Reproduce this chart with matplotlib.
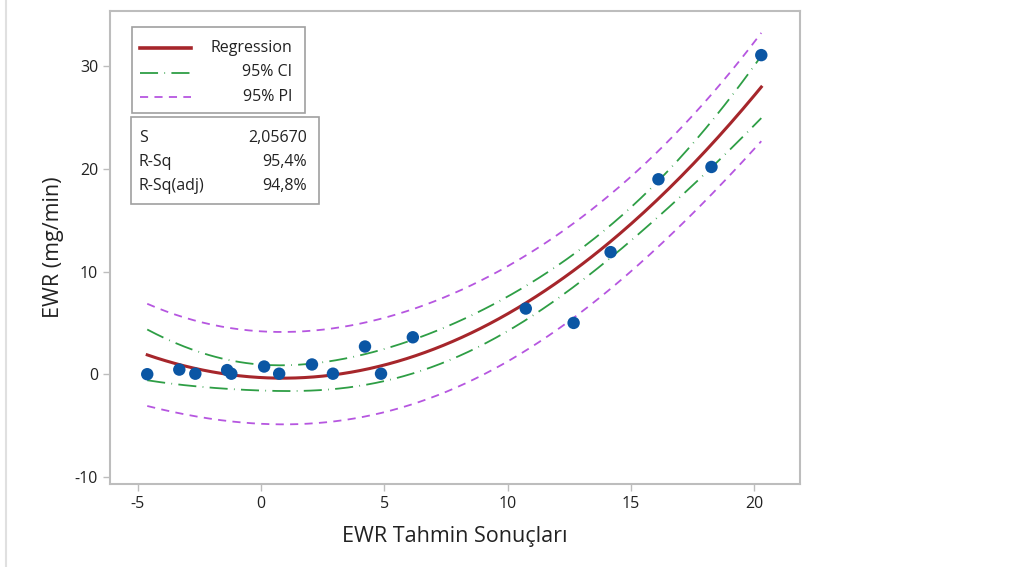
import numpy as np
import matplotlib
matplotlib.use("Agg")
import matplotlib.pyplot as plt
from matplotlib.lines import Line2D

plt.rcParams["font.family"] = ["Open Sans", "DejaVu Sans"]
plt.rcParams["axes.unicode_minus"] = False

x_pred = [-4.62, -3.32, -2.67, -1.38, -1.21, 0.12, 0.73, 2.06, 2.91, 4.21,
          4.86, 6.15, 10.73, 12.67, 14.17, 16.11, 18.26, 20.28]
y_ewr = [0.0, 0.45, 0.05, 0.4, 0.05, 0.75, 0.05, 0.95, 0.05, 2.7,
         0.05, 3.6, 6.4, 5.0, 11.9, 19.0, 20.2, 31.1]
legend_labels = ["Regression", "95% CI", "95% PI"]
stats_names = ["S", "R-Sq", "R-Sq(adj)"]
stats_values = ["2,05670", "95,4%", "94,8%"]
t_crit = 2.131  # t(0.975, df=15)

# quadratic fit + confidence / prediction bands
x = np.array(x_pred)
y = np.array(y_ewr)
coef = np.polyfit(x, y, 2)
X = np.vander(x, 3)
resid = y - X @ coef
s = np.sqrt(resid @ resid / (len(x) - 3))
xtx_inv = np.linalg.inv(X.T @ X)

xg = np.linspace(x.min(), x.max(), 200)
Xg = np.vander(xg, 3)
fit = Xg @ coef
lev = np.einsum("ij,jk,ik->i", Xg, xtx_inv, Xg)
ci = t_crit * s * np.sqrt(lev)
pi = t_crit * s * np.sqrt(1 + lev)

W, H = 1019, 567
fig = plt.figure(figsize=(W / 100, H / 100), dpi=100)
ax = fig.add_axes([110 / W, 1 - 484 / H, 690 / W, 473 / H])

red, green, purple, blue = "#a6262b", "#2e9e45", "#b656e0", "#0b56a4"
ci_dash = (10, 3.5, 0.4, 3.5)
pi_dash = (4.5, 3.5)
ax.plot(xg, fit, color=red, lw=2.2, zorder=4)
for sgn in (1, -1):
    ax.plot(xg, fit + sgn * ci, color=green, lw=1.3, dashes=ci_dash, zorder=3)
    ax.plot(xg, fit + sgn * pi, color=purple, lw=1.3, dashes=pi_dash, zorder=3)
ax.scatter(x, y, s=80, color=blue, zorder=5, edgecolors="none")

ax.set_xlim(-6.13, 21.85)
ax.set_ylim(-10.7, 35.4)
ax.set_xticks([-5, 0, 5, 10, 15, 20])
ax.set_yticks([-10, 0, 10, 20, 30])
for sp in ax.spines.values():
    sp.set_color("#bdbdbd")
    sp.set_linewidth(1.5)
ax.tick_params(colors="#bdbdbd", labelcolor="#222222", labelsize=11.5, length=5, width=1)
ax.set_xlabel("EWR Tahmin Sonuçları", fontsize=15.5, color="#222222", labelpad=10)
ax.set_ylabel("EWR (mg/min)", fontsize=15.5, color="#222222", labelpad=8)

def box(l, t, r, b):
    fig.add_artist(plt.Rectangle((l / W, 1 - b / H), (r - l) / W, (b - t) / H,
                                 transform=fig.transFigure, facecolor="white",
                                 edgecolor="#a0a0a0", lw=1.2, zorder=10))

# legend box
box(132, 27, 305, 113)
styles = [dict(color=red, lw=2.6), dict(color=green, lw=1.3, dashes=ci_dash),
          dict(color=purple, lw=1.3, dashes=pi_dash)]
for i, (lab, st) in enumerate(zip(legend_labels, styles)):
    yy = 1 - (48 + i * 24.5) / H
    fig.add_artist(Line2D([140 / W, 191 / W], [yy, yy], transform=fig.transFigure,
                          zorder=11, **st))
    fig.text(292 / W, yy, lab, fontsize=11.5, va="center", ha="right", color="#222222", zorder=11)

# stats box
box(131, 117, 319, 204)
for i, (nm, val) in enumerate(zip(stats_names, stats_values)):
    yy = 1 - (138 + i * 24) / H
    fig.text(139 / W, yy, nm, fontsize=11.5, va="center", ha="left", color="#222222", zorder=11)
    fig.text(307 / W, yy, val, fontsize=11.5, va="center", ha="right", color="#222222", zorder=11)

fig.add_artist(Line2D([6 / W, 6 / W], [0, 1], transform=fig.transFigure,
                      color="#e0e0e0", lw=1.5))
fig.savefig("out.png", dpi=100)
